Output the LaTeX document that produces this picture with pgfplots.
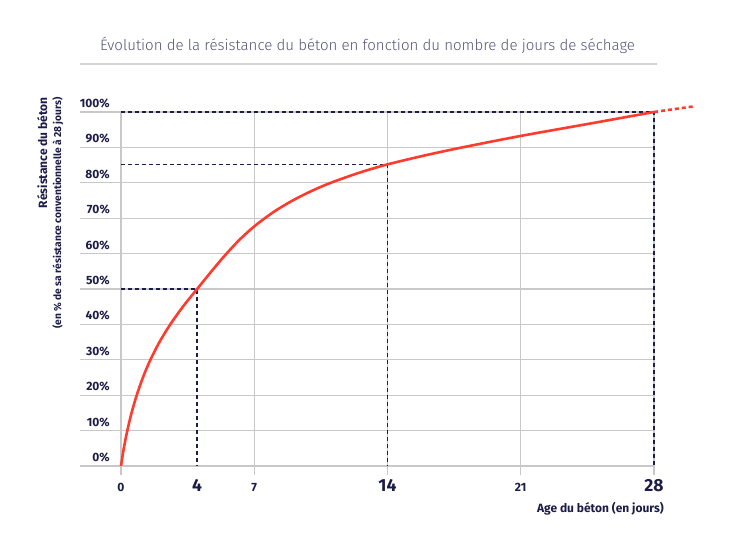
\documentclass[border=0pt]{standalone}
\usepackage{pgfplots}
\pgfplotsset{compat=1.18}
\usepackage{fontspec}
\setmainfont{Fira Sans}
\newfontfamily\titlefont{Fira Sans Light}
\definecolor{navy}{HTML}{1C1C48}
\definecolor{curvered}{HTML}{FF3B2E}
\definecolor{gridgray}{HTML}{C8C8C8}
\definecolor{titlecol}{HTML}{55557A}
\definecolor{sepgray}{HTML}{D3D3D3}
\begin{document}
\begin{tikzpicture}[x=1pt,y=1pt]
\useasboundingbox (-121,-89) rectangle (619,466);
\begin{axis}[at={(0,0)}, anchor=origin, scale only axis, width=533pt, height=354pt,
  xmin=0, xmax=28, ymin=0, ymax=100, clip=false,
  axis line style={draw=none}, major tick length=0pt,
  xtick={0,4,7,14,21,28},
  xticklabels={{\fontsize{12}{12}\selectfont 0},{\fontsize{17.5}{17.5}\selectfont 4},{\fontsize{12}{12}\selectfont 7},{\fontsize{17.5}{17.5}\selectfont 14},{\fontsize{12}{12}\selectfont 21},{\fontsize{17.5}{17.5}\selectfont 28}},
  xticklabel style={anchor=base, inner sep=0pt, yshift=-25.5pt, font=\bfseries, text=navy},
  ytick={0,10,20,30,40,50,60,70,80,90,100},
  yticklabels={0\%,10\%,20\%,30\%,40\%,50\%,60\%,70\%,80\%,90\%,100\%},
  yticklabel style={anchor=base east, inner sep=0pt, xshift=-11pt, yshift=4.4pt, font=\bfseries\fontsize{12}{12}\selectfont, text=navy},
]
\pgfplotsinvokeforeach{0,10,20,30,40,50,60,70,80,90,100}{
  \draw[gridgray, line width=1.2pt] (axis cs:-2.154,#1) -- (axis cs:28,#1);
}
\pgfplotsinvokeforeach{0,7,14,21,28}{
  \draw[gridgray, line width=1.2pt] (axis cs:#1,-2.54) -- (axis cs:#1,100);
}
\addplot[navy, line width=1.4pt, dash pattern=on 4pt off 3pt] coordinates {(0,100) (28,100) (28,0)};
\addplot[navy, line width=1.4pt, dash pattern=on 4pt off 3pt] coordinates {(0,85.2) (14,85.2) (14,0)};
\addplot[navy, line width=1.4pt, dash pattern=on 4pt off 3pt] coordinates {(0,50) (4,50) (4,0)};
\addplot[curvered, line width=2.6pt, smooth, tension=0.5] coordinates {
(0,0) (0.15,5.1) (0.33,9.96) (0.55,14.91) (0.82,19.9) (1.15,24.98) (1.52,29.72) (2.0,34.81) (2.6,40.09)
(3.3,45.34) (4.0,50) (4.7,54.65) (5.4,59.13) (6.2,63.77) (7.0,67.69) (8,71.7) (9,74.95) (10,77.66)
(11,79.96) (12.5,82.82) (14,85.2) (16,87.78) (18,90.08) (21,93.24) (24.5,96.6) (28,100)};
\addplot[curvered, line width=2.6pt, dash pattern=on 4pt off 3pt] coordinates {(28,100) (30.1,101.6)};
\end{axis}
\node[anchor=base, inner sep=0pt, font=\titlefont\fontsize{15.05}{15.05}\selectfont, text=titlecol] at (246.5,415) {Évolution de la résistance du béton en fonction du nombre de jours de séchage};
\draw[sepgray, line width=2pt] (-41,402) -- (536,402);
\node[anchor=base east, inner sep=0pt, font=\bfseries\fontsize{12}{12}\selectfont, text=navy] at (543,-46) {Age du béton (en jours)};
\node[rotate=90, anchor=north east, align=right, inner sep=0pt, font=\bfseries\fontsize{12}{14}\selectfont, text=navy] at (-84,369) {Résistance du béton\\{\fontsize{10.2}{14}\selectfont (en \% de sa résistance conventionnelle à 28 jours)}};
\end{tikzpicture}
\end{document}
